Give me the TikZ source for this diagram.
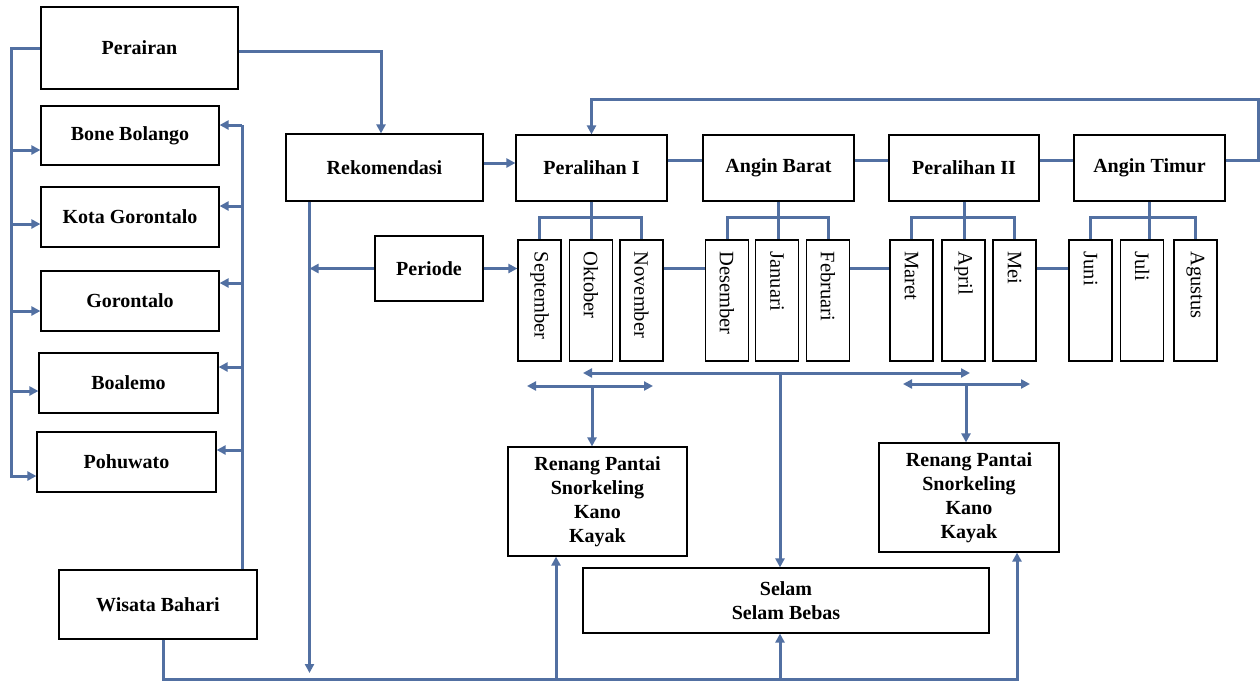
\documentclass[tikz,border=0pt]{standalone}
\usepackage{fontspec}
\setmainfont{Liberation Serif}
\usetikzlibrary{arrows.meta,calc}
\definecolor{lnblue}{RGB}{82,112,162}
\begin{document}
\begin{tikzpicture}[x=1pt,y=-1pt,
  box/.style={draw=black,line width=1.2pt,fill=white,inner sep=2pt,align=center,
    font=\bfseries\fontsize{20}{24}\selectfont},
  month/.style={draw=black,line width=1.2pt,fill=white,minimum width=43pt,minimum height=121pt,inner sep=0pt},
  mtext/.style={rotate=-90,anchor=west,font=\fontsize{20.5}{24}\selectfont,inner sep=0pt},
  line/.style={draw=lnblue,line width=3pt},
  arr/.style={line,-{Triangle[length=9pt,width=9pt]}},
  darr/.style={line,{Triangle[length=9pt,width=9pt]}-{Triangle[length=9pt,width=9pt]}}]
\useasboundingbox[fill=white] (0,0) rectangle (1260,681);

% left column
\node[box,minimum width=197pt,minimum height=82pt] (per) at (139.5,48) {Perairan};
\node[box,minimum width=178pt,minimum height=59pt] (bb) at (130,135.5) {Bone Bolango};
\node[box,minimum width=178pt,minimum height=60pt] (kg) at (130,217) {Kota Gorontalo};
\node[box,minimum width=178pt,minimum height=60pt] (gor) at (130,301) {Gorontalo};
\node[box,minimum width=179pt,minimum height=60pt] (boa) at (128.5,383) {Boalemo};
\node[box,minimum width=179pt,minimum height=60pt] (poh) at (126.5,462) {Pohuwato};
\node[box,minimum width=198pt,minimum height=69pt] (wb) at (158,604.5) {Wisata Bahari};

% middle
\node[box,minimum width=197pt,minimum height=67pt] (rek) at (384.5,167.5) {Rekomendasi};
\node[box,minimum width=108pt,minimum height=65pt] (perd) at (429,268.5) {Periode};

% seasons
\node[box,minimum width=151pt,minimum height=66pt] (p1) at (591.5,168) {Peralihan I};
\node[box,minimum width=151pt,minimum height=66pt] (ab) at (778.5,168) {Angin Barat};
\node[box,minimum width=150pt,minimum height=66pt] (p2) at (964,168) {Peralihan II};
\node[box,minimum width=151pt,minimum height=66pt] (at) at (1149.5,168) {Angin Timur};

% months
\foreach \n/\x/\t in {sep/539.5/September, okt/591/Oktober, nov/641.5/November,
  des/727/Desember, jan/777/Januari, feb/828/Februari,
  mar/911.5/Maret, apr/963.5/April, mei/1014.5/Mei,
  jun/1090.5/Juni, jul/1142/Juli, agu/1195.5/Agustus}{
  \node[month] (\n) at (\x,300.5) {};
  \node[mtext] (\n t) at ($(\n.north)+(0,12)$) {\t};
}

% activities
\node[box,minimum width=179pt,minimum height=109pt] (ren1) at (597.5,501.5) {Renang Pantai\\Snorkeling\\Kano\\Kayak};
\node[box,minimum width=180pt,minimum height=109pt] (ren2) at (969,497.5) {Renang Pantai\\Snorkeling\\Kano\\Kayak};
\node[box,minimum width=406pt,minimum height=65pt] (sel) at (786,600.5) {Selam\\Selam Bebas};

% coordinates
\coordinate (lbus) at (11,476);
\coordinate (rbus) at (242,125);
\coordinate (rekend) at (309.5,673);
\coordinate (lp) at (1258,99);
\coordinate (hub) at (780,373);
\coordinate (hl) at (583,373);
\coordinate (hr) at (970,373);
\coordinate (t1) at (592,386);
\coordinate (t1l) at (527,386);
\coordinate (t1r) at (653,386);
\coordinate (t2) at (966,384);
\coordinate (t2l) at (903,384);
\coordinate (t2r) at (1030,384);
\coordinate (bbus) at (163,679);
\coordinate (b1) at (556,679);
\coordinate (b2) at (780,679);
\coordinate (bend) at (1017,679);

% left bus
\draw[arr] (per.west) -| (lbus) -- (poh.west |- lbus);
\foreach \n/\y in {bb/150, kg/224, gor/311, boa/391}{
  \draw[arr] (lbus |- 0,\y) -- (\n.west |- 0,\y);
}
% right bus
\draw[line] (rbus |- wb.north) -- (rbus);
\foreach \n/\y in {bb/125, kg/206, gor/283, boa/367, poh/450}{
  \draw[arr] (rbus |- 0,\y) -- (\n.east |- 0,\y);
}

% Perairan -> Rekomendasi
\draw[arr] ([yshift=-3pt]per.east) -| ([xshift=-3.5pt]rek.north);
% Rekomendasi down
\draw[arr] (rekend |- rek.south) -- (rekend);
% Periode
\draw[arr] (perd.west) -- (perd.west -| rekend);
\draw[arr] (perd.east) -- (perd.east -| sep.west);
% Rekomendasi -> Peralihan I
\draw[arr] ([yshift=4.5pt]rek.east) -- ([yshift=4.5pt]rek.east -| p1.west);
% season chain
\draw[line] ([yshift=8pt]p1.east) -- ([yshift=8pt]ab.west);
\draw[line] ([yshift=8pt]ab.east) -- ([yshift=8pt]p2.west);
\draw[line] ([yshift=8pt]p2.east) -- ([yshift=8pt]at.west);
\draw[arr] ([yshift=8pt]at.east) -| (lp) -| (p1.north);

% brackets
\foreach \s/\a/\b/\c in {p1/sep/okt/nov, ab/des/jan/feb, p2/mar/apr/mei, at/jun/jul/agu}{
  \draw[line] (\a.north) -- ++(0,-22) -| (\c.north);
  \draw[line] (\s.south) -- (\s.south |- \b.north);
}
% month chain
\draw[line] (nov.east |- perd) -- (des.west |- perd);
\draw[line] (feb.east |- perd) -- (mar.west |- perd);
\draw[line] (mei.east |- perd) -- (jun.west |- perd);

% lower arrows
\draw[darr] (hl) -- (hr);
\draw[arr] (hub) -- (hub |- sel.north);
\draw[darr] (t1l) -- (t1r);
\draw[arr] (t1) -- (t1 |- ren1.north);
\draw[darr] (t2l) -- (t2r);
\draw[arr] (t2) -- (t2 |- ren2.north);

% bottom bus
\draw[arr] (bbus |- wb.south) -- (bbus) -| (bend |- ren2.south);
\draw[arr] (b1) -- (b1 |- ren1.south);
\draw[arr] (b2) -- (b2 |- sel.south);
\end{tikzpicture}
\end{document}
